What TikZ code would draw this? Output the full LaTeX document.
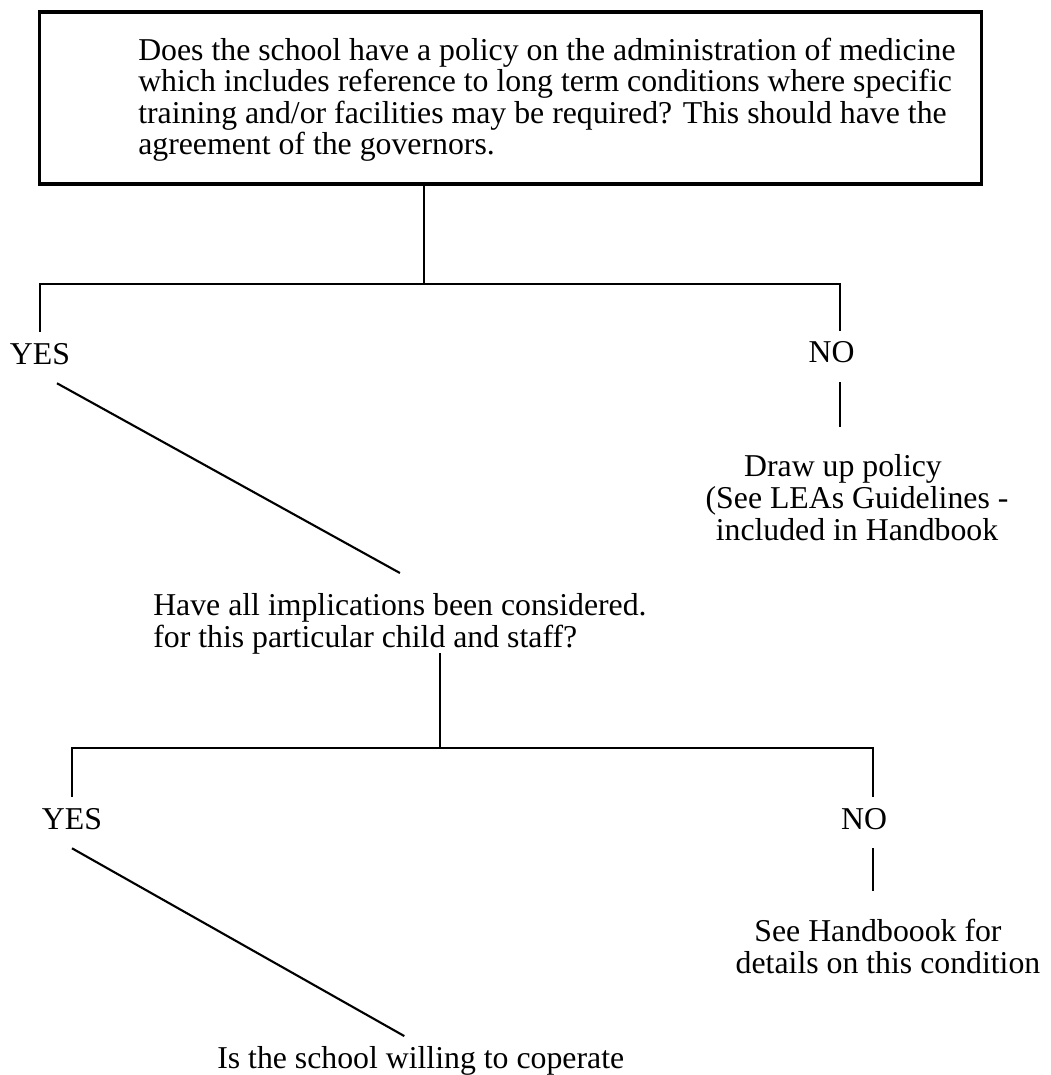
\documentclass[tikz,border=0pt]{standalone}
\usepackage{fontspec}
\setmainfont{Liberation Serif}
\usetikzlibrary{positioning, calc}

\newcommand{\flowfont}{\fontsize{22.6}{22.5}\selectfont}

\tikzset{
    qbox/.style={rectangle, draw=black, line width=2.2pt,
                 minimum width=23.525cm, minimum height=4.3cm},
    qtext/.style={inner xsep=0pt, inner ysep=0.5cm, align=left, font=\flowfont},
    answer/.style={inner xsep=0pt, inner ysep=0.275cm, text depth=0.2cm, font=\flowfont},
    action/.style={inner xsep=0pt, inner ysep=0.69cm, align=center, font=\flowfont},
    conn/.style={line width=1.5pt, black}
}

\begin{document}
\begin{tikzpicture}[x=0.025cm, y=-0.025cm]
    \useasboundingbox (0,0) rectangle (1050,1075);

    % Policy question (base = last line)
    \node[qbox] (q1) at (510.5,98) {};
    \node[qtext, anchor=base west] (q1text) at (138,155) {Does the school have a policy on the administration of medicine\\
        which includes reference to long term conditions where specific\\
        training and/or facilities may be required?  This should have the\\
        agreement of the governors.};
    \coordinate (j1) at (424,284);

    % First answers
    \node[answer, anchor=base] (yes1) at (40,364) {YES};
    \node[answer, anchor=base] (no1) at (831.5,363) {NO};
    \node[action, anchor=base] (act1) at (857,540) {Draw up policy\hspace*{0.7cm}\\
        (See LEAs Guidelines -\\
        included in Handbook};

    % Implications question
    \node[qtext, anchor=base west] (q2) at (153,647) {Have all implications been considered.\\
        for this particular child and staff?};
    \coordinate (j2) at (440,748);

    % Second answers
    \node[answer, anchor=base] (yes2) at (72,829) {YES};
    \node[answer, anchor=base] (no2) at (864,829) {NO};
    \node[action, anchor=base] (act2) at (888,973) {See Handboook for\hspace*{0.5cm}\\
        details on this condition};
    \node[qtext, anchor=base west, inner ysep=0.24cm] (q3) at (217,1068) {Is the school willing to coperate};

    % Connectors
    \draw[conn] (q1.south -| j1) -- (j1);
    \draw[conn] (yes1.north) |- (j1) -| ([xshift=0.2125cm]no1.north);
    \draw[conn] ([xshift=0.2125cm]no1.south) -- ([xshift=0.2125cm]no1.south |- act1.north);
    \draw[conn] ([xshift=0.425cm]yes1.south) -- (q2.north);
    \draw[conn, shorten <=0.15cm] (q2.base -| j2) -- (j2);
    \draw[conn] (yes2.north) |- (j2) -| ([xshift=0.225cm]no2.north);
    \draw[conn] ([xshift=0.225cm]no2.south) -- ([xshift=0.225cm]no2.south |- act2.north);
    \draw[conn] (yes2.south) -- ([xshift=-0.41cm]q3.north);
\end{tikzpicture}
\end{document}
